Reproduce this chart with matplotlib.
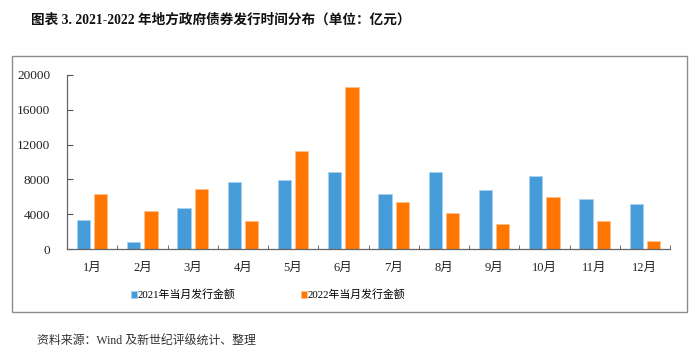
import matplotlib
matplotlib.use("Agg")
import matplotlib.pyplot as plt
from matplotlib.patches import Rectangle
import numpy as np

months = ["1月", "2月", "3月", "4月", "5月", "6月", "7月", "8月", "9月", "10月", "11月", "12月"]
issue_2021 = [3320, 800, 4730, 7750, 7940, 8820, 6300, 8890, 6790, 8400, 5800, 5190]
issue_2022 = [6370, 4350, 6870, 3240, 11300, 18660, 5420, 4120, 2900, 5990, 3240, 920]
yticks = [0, 4000, 8000, 12000, 16000, 20000]
series_names = ["2021年当月发行金额", "2022年当月发行金额"]
title = "图表 3. 2021-2022 年地方政府债券发行时间分布（单位：亿元）"
source = "资料来源：Wind 及新世纪评级统计、整理"

FAM = ["Liberation Serif", "Noto Sans CJK SC"]
plt.rcParams["font.family"] = FAM

fig = plt.figure(figsize=(7, 3.58), dpi=100)
ax = fig.add_axes([67 / 700, 1 - 249 / 358, (670 - 67) / 700, (249 - 75) / 358])

x = np.arange(len(months))
w = 0.263
off = 0.172
c1, c2 = "#469BD9", "#FF7700"
ax.bar(x - off, issue_2021, w, color=c1, edgecolor="#A9D0EE", linewidth=0.7, label=series_names[0])
ax.bar(x + off, issue_2022, w, color=c2, edgecolor="#FFC08A", linewidth=0.7, label=series_names[1])

ax.set_xlim(-0.5, len(months) - 0.5)
ax.set_ylim(0, 20000)
ax.set_yticks(yticks)
ax.set_yticklabels([str(v) for v in yticks], fontsize=9.5, color="#222222")
ax.set_xticks(x)
ax.set_xticklabels(months, fontsize=9, color="#222222")
ax.tick_params(axis="x", which="major", length=0, pad=9)
ax.set_xticks(np.arange(-0.5, len(months)), minor=True)
ax.tick_params(axis="x", which="minor", length=3, direction="in", color="#555555")
ax.tick_params(axis="y", length=4, direction="in", color="#555555", pad=12)
for s in ["top", "right"]:
    ax.spines[s].set_visible(False)
for s in ["left", "bottom"]:
    ax.spines[s].set_color("#666666")
    ax.spines[s].set_linewidth(0.9)

leg = fig.legend(loc="center", bbox_to_anchor=(268 / 700, 1 - 295 / 358), ncol=2, frameon=False,
                 handlelength=0.55, handleheight=0.55, handletextpad=0.1,
                 columnspacing=6.0, prop={"family": FAM, "size": 7.8})

fig.patches.append(Rectangle((12 / 700, 1 - 312 / 358), (687 - 12) / 700, (312 - 56) / 358,
                             transform=fig.transFigure, fill=False, edgecolor="#8C8C8C", linewidth=1.0))

fig.text(31 / 700, 1 - 20 / 358, title, fontsize=9.8, fontweight="bold", va="center", ha="left",
         family=FAM, color="#111111")
fig.text(37 / 700, 1 - 342 / 358, source, fontsize=8.6, va="center", ha="left", family=FAM, color="#333333")

fig.savefig("out.png", dpi=100)
